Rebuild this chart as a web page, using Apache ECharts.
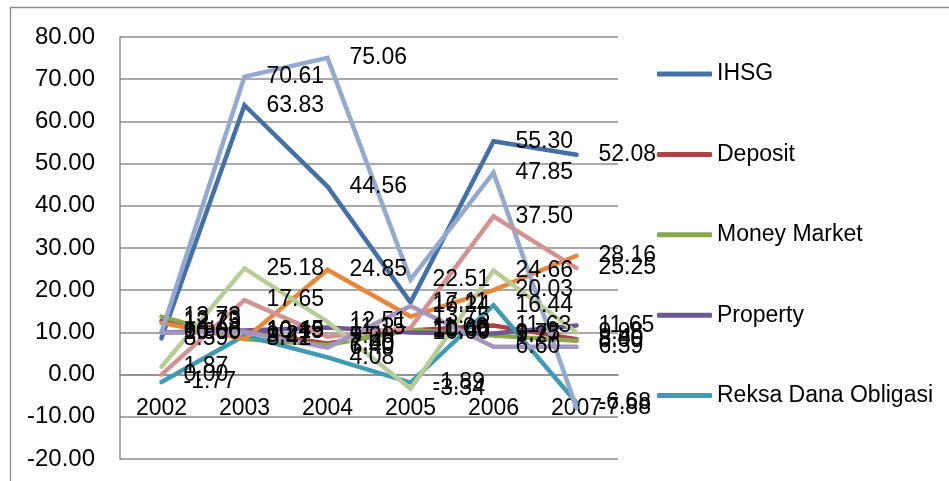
<!DOCTYPE html>
<html>
<head>
<meta charset="utf-8">
<script src="https://cdn.jsdelivr.net/npm/echarts@6/dist/echarts.min.js"></script>
<style>
  html, body { margin: 0; padding: 0; background: #ffffff; }
  #chart { width: 949px; height: 481px; }
</style>
</head>
<body>
<div id="chart"></div>
<script>
// Annual returns (%) by instrument, 2002-2007
const years = ['2002', '2003', '2004', '2005', '2006', '2007'];
const yTicks = { min: -20, max: 80, step: 10 };

const ihsg          = [8.59, 63.83, 44.56, 17.11, 55.30, 52.08];
const deposit       = [12.73, 10.19, 7.40, 10.46, 11.63, 8.40];
const moneyMarket   = [13.73, 8.42, 7.00, 10.60, 9.27, 8.00];
const property      = [10.00, 10.45, 11.15, 10.00, 9.75, 11.65];
const reksaObligasi = [-1.77, 9.27, 4.08, -1.89, 16.44, -6.68];
const seri6         = [12.25, 8.41, 24.85, 13.75, 20.03, 28.16];
const seri7         = [10.06, 70.61, 75.06, 22.51, 47.85, -7.88];
const seri8         = [0.00, 17.65, 9.00, 11.06, 37.50, 25.25];
const seri9         = [1.87, 25.18, 12.51, -3.34, 24.66, 9.98];
const seri10        = [9.90, 10.15, 6.40, 16.24, 6.60, 6.59];

const legendNames = ['IHSG', 'Deposit', 'Money Market', 'Property', 'Reksa Dana Obligasi'];

const lines = [
  { name: 'IHSG',                data: ihsg,          color: '#4470A8' },
  { name: 'Deposit',             data: deposit,       color: '#A94442' },
  { name: 'Money Market',        data: moneyMarket,   color: '#8AA84B' },
  { name: 'Property',            data: property,      color: '#6F5896' },
  { name: 'Reksa Dana Obligasi', data: reksaObligasi, color: '#3F9AB3' },
  { name: 'Seri 6',              data: seri6,         color: '#E7873A' },
  { name: 'Seri 7',              data: seri7,         color: '#93A9CF' },
  { name: 'Seri 8',              data: seri8,         color: '#D39391' },
  { name: 'Seri 9',              data: seri9,         color: '#B7CD95' },
  { name: 'Seri 10',             data: seri10,        color: '#A596BD' }
];

const FONT = '"Liberation Sans", Arial, sans-serif';
const GRID_GRAY = '#8c8c8c';

// plot area geometry
const GRID = { left: 120, right: 331, top: 37, bottom: 22 };
const CHART_H = 481;
const plotH = CHART_H - GRID.top - GRID.bottom;
// the category axis sits on the zero line of the value axis
const zeroOffset = -plotH * (0 - yTicks.min) / (yTicks.max - yTicks.min);

const chart = echarts.init(document.getElementById('chart'), null, { renderer: 'canvas' });

chart.setOption({
  animation: false,
  backgroundColor: '#ffffff',
  textStyle: { fontFamily: FONT },
  graphic: [{
    type: 'rect',
    silent: true,
    z: -1,
    shape: { x: 10.5, y: 7.5, width: 1000, height: 600 },
    style: { fill: 'none', stroke: GRID_GRAY, lineWidth: 1.3 }
  }],
  grid: Object.assign({ containLabel: false, outerBoundsMode: 'none' }, GRID),
  legend: {
    orient: 'vertical',
    left: 652,
    top: 56,
    data: legendNames,
    icon: 'roundRect',
    itemWidth: 55,
    itemHeight: 5,
    itemGap: 54.4,
    selectedMode: false,
    textStyle: { fontSize: 23, lineHeight: 26, color: '#000', fontFamily: FONT }
  },
  xAxis: {
    type: 'category',
    data: years,
    boundaryGap: true,
    position: 'bottom',
    offset: zeroOffset,
    axisLine: { onZero: false, lineStyle: { color: GRID_GRAY, width: 1.5 } },
    axisTick: { show: false },
    axisLabel: { fontSize: 23, color: '#000', margin: 23, fontFamily: FONT }
  },
  yAxis: {
    type: 'value',
    min: yTicks.min,
    max: yTicks.max,
    interval: yTicks.step,
    axisLine: { show: true, lineStyle: { color: GRID_GRAY, width: 1.5 } },
    axisTick: { show: false },
    splitLine: { show: true, lineStyle: { color: GRID_GRAY, width: 1.5 } },
    axisLabel: {
      fontSize: 24, color: '#000', margin: 25, fontFamily: FONT,
      formatter: v => v.toFixed(2)
    }
  },
  series: lines.map(s => ({
    type: 'line',
    name: s.name,
    data: s.data,
    symbol: 'circle',
    symbolSize: 0,
    itemStyle: { color: s.color },
    lineStyle: { color: s.color, width: 4.5, cap: 'round', join: 'miter' },
    emphasis: { disabled: true },
    label: {
      show: true,
      position: 'right',
      distance: 22,
      fontSize: 23,
      color: '#000',
      fontFamily: FONT,
      formatter: p => p.value.toFixed(2)
    }
  }))
});
</script>
</body>
</html>
